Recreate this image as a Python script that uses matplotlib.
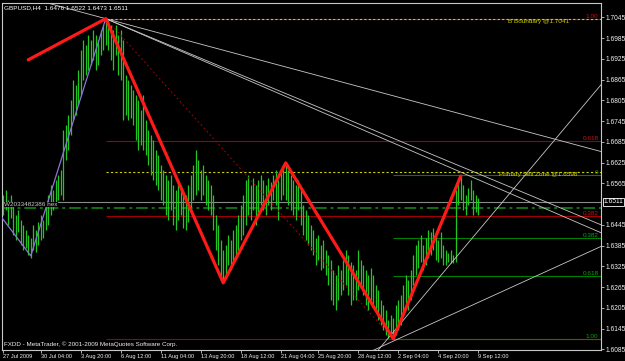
import matplotlib
matplotlib.use("Agg")
import matplotlib.pyplot as plt

# GBPUSD H4 bars (bar index 0 = 27 Jul 2009)
HIGHS = [
    1.6531, 1.6546, 1.6517, 1.6531, 1.6502, 1.6474, 1.6488, 1.6459, 1.6445, 1.6430,
    1.6416, 1.6407, 1.6445, 1.6430, 1.6453, 1.6474, 1.6459, 1.6502, 1.6531, 1.6560,
    1.6546, 1.6575, 1.6589, 1.6604, 1.6719, 1.6734, 1.6762, 1.6806, 1.6864, 1.6849,
    1.6893, 1.6950, 1.6979, 1.6965, 1.6994, 1.6979, 1.7008, 1.6994, 1.6979, 1.7008,
    1.7023, 1.7041, 1.7037, 1.7023, 1.7008, 1.7023, 1.6994, 1.7008, 1.6979, 1.6878,
    1.6864, 1.6849, 1.6835, 1.6820, 1.6806, 1.6777, 1.6820, 1.6748, 1.6719, 1.6705,
    1.6690, 1.6661, 1.6647, 1.6618, 1.6604, 1.6589, 1.6575, 1.6589, 1.6560, 1.6546,
    1.6575, 1.6560, 1.6546, 1.6531, 1.6560, 1.6589, 1.6618, 1.6661, 1.6632, 1.6604,
    1.6618, 1.6589, 1.6575, 1.6560, 1.6531, 1.6474, 1.6445, 1.6401, 1.6372, 1.6387,
    1.6416, 1.6401, 1.6430, 1.6445, 1.6474, 1.6502, 1.6531, 1.6575, 1.6589, 1.6560,
    1.6581, 1.6560, 1.6575, 1.6589, 1.6575, 1.6560, 1.6581, 1.6569, 1.6589, 1.6604,
    1.6575, 1.6604, 1.6618, 1.6624, 1.6604, 1.6589, 1.6575, 1.6560, 1.6575, 1.6546,
    1.6502, 1.6488, 1.6474, 1.6445, 1.6430, 1.6407, 1.6416, 1.6387, 1.6401, 1.6372,
    1.6358, 1.6343, 1.6314, 1.6300, 1.6329, 1.6314, 1.6343, 1.6372, 1.6358, 1.6338,
    1.6329, 1.6314, 1.6372, 1.6343, 1.6329, 1.6314, 1.6300, 1.6320, 1.6300, 1.6271,
    1.6256, 1.6228, 1.6213, 1.6199, 1.6170, 1.6185, 1.6176, 1.6213, 1.6228, 1.6242,
    1.6271, 1.6300, 1.6285, 1.6314, 1.6358, 1.6387, 1.6401, 1.6416, 1.6387, 1.6407,
    1.6430, 1.6425, 1.6436, 1.6416, 1.6401, 1.6425, 1.6387, 1.6372, 1.6364, 1.6372,
    1.6358, 1.6546, 1.6575, 1.6586, 1.6560, 1.6531, 1.6552, 1.6575, 1.6546, 1.6531,
    1.6522,
]
LOWS = [
    1.6474, 1.6488, 1.6445, 1.6465, 1.6416, 1.6401, 1.6425, 1.6387, 1.6372, 1.6378,
    1.6358, 1.6349, 1.6372, 1.6367, 1.6387, 1.6401, 1.6407, 1.6430, 1.6445, 1.6474,
    1.6488, 1.6502, 1.6517, 1.6531, 1.6517, 1.6632, 1.6661, 1.6705, 1.6748, 1.6762,
    1.6791, 1.6820, 1.6864, 1.6878, 1.6893, 1.6907, 1.6922, 1.6893, 1.6907, 1.6936,
    1.6950, 1.6965, 1.6950, 1.6922, 1.6893, 1.6936, 1.6878, 1.6864, 1.6748, 1.6762,
    1.6748, 1.6754, 1.6734, 1.6690, 1.6661, 1.6676, 1.6661, 1.6647, 1.6618, 1.6589,
    1.6575, 1.6560, 1.6546, 1.6517, 1.6502, 1.6474, 1.6459, 1.6488, 1.6445, 1.6430,
    1.6459, 1.6474, 1.6436, 1.6430, 1.6453, 1.6488, 1.6517, 1.6531, 1.6546, 1.6517,
    1.6531, 1.6502, 1.6488, 1.6474, 1.6430, 1.6372, 1.6329, 1.6285, 1.6277, 1.6300,
    1.6329, 1.6314, 1.6338, 1.6358, 1.6372, 1.6401, 1.6416, 1.6445, 1.6474, 1.6459,
    1.6488, 1.6445, 1.6474, 1.6502, 1.6488, 1.6474, 1.6502, 1.6488, 1.6517, 1.6502,
    1.6459, 1.6517, 1.6531, 1.6517, 1.6502, 1.6488, 1.6474, 1.6459, 1.6488, 1.6445,
    1.6416, 1.6401, 1.6387, 1.6372, 1.6358, 1.6329, 1.6343, 1.6314, 1.6320, 1.6300,
    1.6271, 1.6228, 1.6213, 1.6199, 1.6228, 1.6242, 1.6256, 1.6271, 1.6242, 1.6213,
    1.6228, 1.6228, 1.6256, 1.6271, 1.6242, 1.6213, 1.6199, 1.6228, 1.6213, 1.6199,
    1.6170, 1.6156, 1.6141, 1.6127, 1.6118, 1.6124, 1.6115, 1.6127, 1.6141, 1.6156,
    1.6185, 1.6213, 1.6199, 1.6228, 1.6271, 1.6300, 1.6320, 1.6338, 1.6314, 1.6329,
    1.6349, 1.6358, 1.6372, 1.6343, 1.6338, 1.6349, 1.6329, 1.6329, 1.6338, 1.6335,
    1.6335, 1.6338, 1.6502, 1.6517, 1.6488, 1.6474, 1.6502, 1.6517, 1.6474, 1.6482,
    1.6473,
]
TITLE = "GBPUSD,H4  1.6476 1.6522 1.6473 1.6511"
BID = 1.6511
DASHDOT_LEVEL = 1.6494

# time axis labels (bar index, text)
TIME_TICKS = [0, 15, 31, 47, 63, 79, 95, 111, 126, 142, 158, 174, 190]
TIME_LABELS = ["27 Jul 2009", "30 Jul 04:00", "3 Aug 20:00", "6 Aug 12:00",
               "11 Aug 04:00", "13 Aug 20:00", "18 Aug 12:00", "21 Aug 04:00",
               "25 Aug 20:00", "28 Aug 12:00", "2 Sep 04:00", "4 Sep 20:00",
               "9 Sep 12:00"]
PRICE_TICKS = [1.7045, 1.6985, 1.6925, 1.6865, 1.6805, 1.6745, 1.6685, 1.6625,
               1.6565, 1.6445, 1.6385, 1.6325, 1.6265, 1.6205, 1.6145, 1.6085]

# zigzag / pattern legs
ZIGZAG_X = [10, 41, 88, 113, 156, 183]
ZIGZAG_Y = [1.6922, 1.7041, 1.6277, 1.6624, 1.6115, 1.6586]
PURPLE_X = [-0.5, 11, 41]
PURPLE_Y = [1.6465, 1.6355, 1.7041]

# fibonacci retracement of the big leg (red) and the last leg (green)
RED_FIB_START = 41
RED_FIB_LEVELS = [1.7041, 1.6687, 1.6469, 1.6115]
RED_FIB_NAMES = ["1.00", "0.618", "0.382", ""]
GREEN_FIB_START = 156
GREEN_FIB_LEVELS = [1.6588, 1.6407, 1.6296, 1.6115]
GREEN_FIB_NAMES = ["0", "0.382", "0.618", "1.00"]

B_BOUNDARY = 1.7041
SELL_ZONE = 1.6598

# grey trend lines: two anchor points each (bar, price)
RAY_LINES = [                       # extend both ways
    ((41, 1.7041), (239, 1.6657)),
    ((150, 1.6083), (239, 1.6849)),
    ((158, 1.6115), (239, 1.6382)),
]
SEGMENT_LINES = [                   # start at the top, run to the right edge
    ((41, 1.7041), (239.1, 1.6445)),
    ((41, 1.7041), (239.1, 1.6422)),
]

XMIN, XMAX = -0.5, 239.1
YMIN, YMAX = 1.60829, 1.70863
FONT = "Liberation Sans"
FS = 4.6          # general chart text
FS_TIME = 4.1     # time-axis labels
FS_PRICE = 4.8    # price-axis labels
GREY = "#c8c8c8"
TEXT = "#f0f0f0"
BAR_GREEN = "#1fc81f"
FIB_RED = "#a00000"
FIB_GREEN = "#008000"
YELLOW = "#d0d000"


def main() -> None:
    fig = plt.figure(figsize=(6.25, 3.61), dpi=100, facecolor="black")
    ax = fig.add_axes([2 / 625, 11 / 361, 599 / 625, 347 / 361])
    ax.set_facecolor("black")
    ax.set_xlim(XMIN, XMAX)
    ax.set_ylim(YMIN, YMAX)

    # horizontal levels
    ax.axhline(BID, color="#8a8a8a", lw=0.8, zorder=1)
    ax.axhline(DASHDOT_LEVEL, color="#137013", lw=1.4, ls=(0, (6, 2, 1.5, 2)), zorder=1)
    for lvl in RED_FIB_LEVELS:
        ax.hlines(lvl, RED_FIB_START, XMAX, color=FIB_RED, lw=0.8, zorder=1)
    for lvl in GREEN_FIB_LEVELS:
        ax.hlines(lvl, GREEN_FIB_START, XMAX, color=FIB_GREEN, lw=0.8, zorder=1)
    ax.hlines(B_BOUNDARY, RED_FIB_START, XMAX, color=YELLOW, lw=0.8, ls=(0, (2, 2)), zorder=2)
    ax.hlines(SELL_ZONE, RED_FIB_START, XMAX, color=YELLOW, lw=0.8, ls=(0, (2, 2)), zorder=2)

    # bars
    idx = list(range(len(HIGHS)))
    ax.vlines(idx, LOWS, HIGHS, color=BAR_GREEN, lw=0.9, zorder=3)

    # trend lines
    for p1, p2 in RAY_LINES:
        ax.axline(p1, p2, color=GREY, lw=0.6, zorder=4)
    for p1, p2 in SEGMENT_LINES:
        ax.plot([p1[0], p2[0]], [p1[1], p2[1]], color=GREY, lw=0.6, zorder=4)
    ax.plot([ZIGZAG_X[1], ZIGZAG_X[4]], [ZIGZAG_Y[1], ZIGZAG_Y[4]], color=FIB_RED,
            lw=0.8, ls=(0, (1.5, 2.5)), zorder=4)
    ax.plot(PURPLE_X, PURPLE_Y, color="#8f72d8", lw=0.9, zorder=5)
    ax.plot(ZIGZAG_X, ZIGZAG_Y, color="#ff1a1a", lw=2.3, zorder=6, solid_capstyle="round")

    # fib labels on the right edge
    for lvl, name in zip(RED_FIB_LEVELS, RED_FIB_NAMES):
        ax.text(XMAX - 1, lvl, name, color="#d01010", fontsize=FS, family=FONT,
                ha="right", va="bottom", zorder=7)
    for lvl, name in zip(GREEN_FIB_LEVELS, GREEN_FIB_NAMES):
        ax.text(XMAX - 1, lvl, name, color="#10a010", fontsize=FS, family=FONT,
                ha="right", va="bottom", zorder=7)
    ax.text(214, B_BOUNDARY, "B Boundary @1.7041", color=YELLOW, fontsize=FS,
            family=FONT, ha="center", va="top", zorder=7)
    ax.text(214, SELL_ZONE, "Primary Sell Zone @1.6598", color=YELLOW, fontsize=FS,
            family=FONT, ha="center", va="top", zorder=7)
    ax.text(0.5, BID, "W2033482386 hex", color=GREY, fontsize=FS, family=FONT,
            ha="left", va="top", zorder=7,
            bbox=dict(facecolor="black", edgecolor="none", pad=0.3))

    # axes / frame styling
    for s in ax.spines.values():
        s.set_color(GREY)
        s.set_linewidth(0.8)
    ax.yaxis.tick_right()
    ax.set_yticks(PRICE_TICKS)
    ax.set_yticklabels([f"{p:.4f}" for p in PRICE_TICKS])
    ax.tick_params(axis="y", colors=GREY, labelsize=FS_PRICE, length=2, width=0.6, pad=1)
    ax.set_xticks(TIME_TICKS)
    ax.set_xticklabels(TIME_LABELS)
    ax.tick_params(axis="x", colors=GREY, labelsize=FS_TIME, length=2, width=0.6, pad=1)
    for lab in ax.get_xticklabels() + ax.get_yticklabels():
        lab.set_family(FONT)
        lab.set_color(TEXT)
    for lab in ax.get_xticklabels():
        lab.set_ha("left")

    # current price box
    ax.text(XMAX + 1.2, BID, f"{BID:.4f}", color="white", fontsize=FS_PRICE, family=FONT,
            ha="left", va="center", zorder=8, clip_on=False,
            bbox=dict(facecolor="black", edgecolor="white", pad=0.5, lw=0.6))

    fig.text(4 / 625, 1 - 8 / 361, TITLE, color="white", fontsize=FS, family=FONT,
             ha="left", va="center")
    fig.text(4 / 625, 1 - 344 / 361, "FXDD - MetaTrader, \u00a9 2001-2009 MetaQuotes Software Corp.",
             color=TEXT, fontsize=4.5, family=FONT, ha="left", va="center")

    fig.savefig("out.png", dpi=100, facecolor="black")


if __name__ == "__main__":
    main()
